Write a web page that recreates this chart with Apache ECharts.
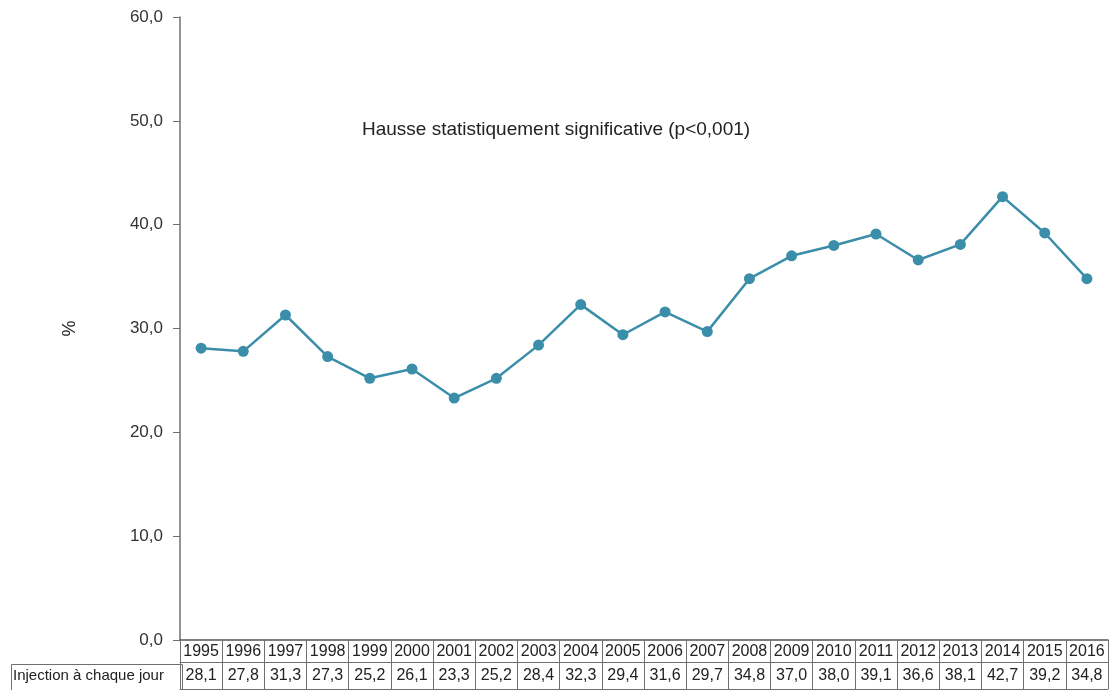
<!DOCTYPE html>
<html>
<head>
<meta charset="utf-8">
<script src="https://cdn.jsdelivr.net/npm/echarts@6/dist/echarts.min.js"></script>
<style>
  html, body { margin: 0; padding: 0; background: #fff; }
  #chart { width: 1110px; height: 690px; }
</style>
</head>
<body>
<div id="chart"></div>
<script>
// années et pourcentages
var years = ['1995','1996','1997','1998','1999','2000','2001','2002','2003','2004','2005',
             '2006','2007','2008','2009','2010','2011','2012','2013','2014','2015','2016'];
var injection = [28.1, 27.8, 31.3, 27.3, 25.2, 26.1, 23.3, 25.2, 28.4, 32.3, 29.4,
                 31.6, 29.7, 34.8, 37.0, 38.0, 39.1, 36.6, 38.1, 42.7, 39.2, 34.8];
var rowLabel = 'Injection à chaque jour';
var note = 'Hausse statistiquement significative (p<0,001)';

var fmt = function (v) { return v.toFixed(1).replace('.', ','); };
var font = '"Liberation Sans", Arial, sans-serif';
var axisGrey = '#6f6f6f';

var chart = echarts.init(document.getElementById('chart'));
chart.setOption({
    animation: false,
    textStyle: { fontFamily: font },
    title: {
        text: note,
        left: 357, top: 115,
        textStyle: { fontSize: 19, fontWeight: 'normal', color: '#222', fontFamily: font }
    },
    grid: { left: 180, right: 2, top: 17, bottom: 50 },
    yAxis: {
        type: 'value', min: 0, max: 60, interval: 10,
        name: '%', nameLocation: 'middle', nameGap: 101, nameRotate: 90,
        nameTextStyle: { fontSize: 18, color: '#222' },
        axisLine: { show: true, lineStyle: { color: axisGrey, width: 1.5 } },
        axisTick: { show: true, length: 7, lineStyle: { color: axisGrey } },
        splitLine: { show: false },
        axisLabel: { fontSize: 17, color: '#333', margin: 17, formatter: fmt }
    },
    xAxis: [
        {
            type: 'category', data: years, position: 'bottom',
            axisLine: { lineStyle: { color: '#555', width: 1.5 } },
            axisTick: { show: true, interval: 0, length: 22, lineStyle: { color: axisGrey } },
            axisLabel: { fontSize: 16, color: '#222', margin: 4, interval: 0 }
        },
        {
            type: 'category', data: injection.map(fmt), position: 'bottom', offset: 22,
            axisLine: { show: true, lineStyle: { color: axisGrey, width: 1 } },
            axisTick: { show: true, interval: 0, length: 27, lineStyle: { color: axisGrey } },
            axisLabel: { fontSize: 16, color: '#222', margin: 6, interval: 0 }
        },
        {
            type: 'category', data: years, position: 'bottom', offset: 49,
            axisLine: { show: true, lineStyle: { color: axisGrey, width: 1 } },
            axisTick: { show: false },
            axisLabel: { show: false }
        }
    ],
    graphic: [
        {
            type: 'rect', left: 9, top: 662,
            shape: { width: 171, height: 27 },
            style: { fill: 'none', stroke: axisGrey, lineWidth: 1 }
        },
        {
            type: 'text', left: 13, top: 668,
            style: { text: rowLabel, fontSize: 15, fill: '#222', fontFamily: font }
        }
    ],
    series: [{
        type: 'line', data: injection, xAxisIndex: 0,
        symbol: 'circle', symbolSize: 11,
        lineStyle: { color: '#3b8ea9', width: 2.5 },
        itemStyle: { color: '#3b8ea9' }
    }]
});
</script>
</body>
</html>
